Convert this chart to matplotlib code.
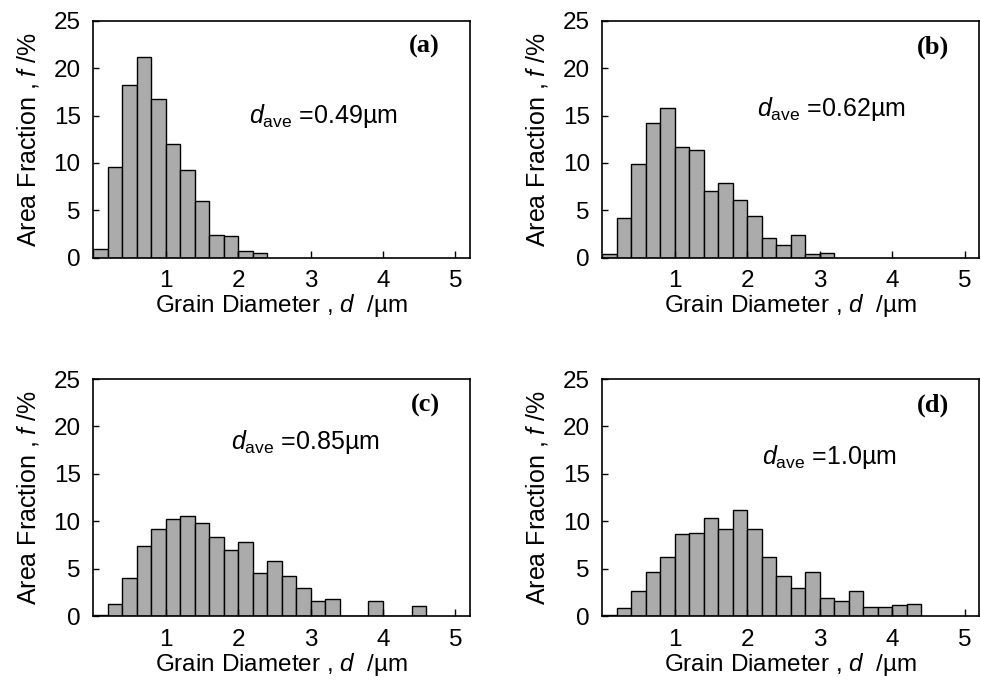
"""Grain size distributions for four samples (a)-(d)."""
import numpy as np
import matplotlib
matplotlib.use('Agg')
import matplotlib.pyplot as plt

plt.rcParams['font.family'] = ['Liberation Sans', 'DejaVu Sans']
plt.rcParams['mathtext.fontset'] = 'custom'
plt.rcParams['mathtext.rm'] = 'Liberation Sans'
plt.rcParams['mathtext.it'] = 'Liberation Sans:italic'

# bin width 0.2 um, bins start at 0
bin_width = 0.2
frac_a = [0.9, 9.6, 18.2, 21.2, 16.8, 12.0, 9.3, 6.0, 2.4, 2.3, 0.7, 0.5]
frac_b = [0.35, 4.2, 9.9, 14.2, 15.8, 11.7, 11.4, 7.0, 7.9, 6.1, 4.4, 2.1,
          1.4, 2.4, 0.4, 0.55]
frac_c = [0.1, 1.3, 4.0, 7.4, 9.2, 10.2, 10.6, 9.8, 8.3, 7.0, 7.8, 4.5,
          5.8, 4.2, 3.0, 1.6, 1.75, 0, 0, 1.6, 0, 0, 1.05]
frac_d = [0.1, 0.9, 2.6, 4.6, 6.2, 8.65, 8.8, 10.3, 9.2, 11.2, 9.2, 6.2,
          4.2, 3.0, 4.6, 1.9, 1.55, 2.6, 1.0, 1.0, 1.15, 1.3]

panel_tags = ['(a)', '(b)', '(c)', '(d)']
d_ave = ['0.49', '0.62', '0.85', '1.0']
# where the d_ave note sits (data coords)
note_pos = [(2.15, 15.0), (2.13, 15.7), (1.9, 18.4), (2.2, 16.8)]

x_ticks = [1, 2, 3, 4, 5]
y_ticks = [0, 5, 10, 15, 20, 25]

fig = plt.figure(figsize=(9.81, 6.93), dpi=100)
rects = [[0.095, 0.628, 0.384, 0.342], [0.614, 0.628, 0.384, 0.342],
         [0.095, 0.111, 0.384, 0.342], [0.614, 0.111, 0.384, 0.342]]

for i, vals in enumerate([frac_a, frac_b, frac_c, frac_d]):
    ax = fig.add_axes(rects[i])
    edges = np.arange(len(vals)) * bin_width
    ax.bar(edges, vals, width=bin_width, align='edge', color='#ababab',
           edgecolor='black', linewidth=1.0)
    ax.set_xlim(0, 5.2)
    ax.set_ylim(0, 25)
    ax.set_xticks(x_ticks)
    ax.set_yticks(y_ticks)
    ax.tick_params(direction='in', labelsize=17.5)
    ax.tick_params(axis='x', length=5, width=1, pad=9)
    ax.tick_params(axis='y', length=4, width=1, pad=9)
    for s in ax.spines.values():
        s.set_linewidth(1.2)
    ax.set_xlabel('Grain Diameter , $d$  /µm', fontsize=17.5, labelpad=0)
    ax.set_ylabel('Area Fraction , $f$ /%', fontsize=18, labelpad=9)
    ax.text(0.92, 0.89, panel_tags[i], transform=ax.transAxes, ha='right',
            va='center', fontsize=19, fontweight='bold',
            family='Liberation Serif')
    nx, ny = note_pos[i]
    ax.text(nx, ny, r'$d_{\mathrm{ave}}$ =' + d_ave[i] + 'µm', fontsize=18,
            ha='left', va='center')

fig.savefig('out.png', dpi=100)
plt.close(fig)
